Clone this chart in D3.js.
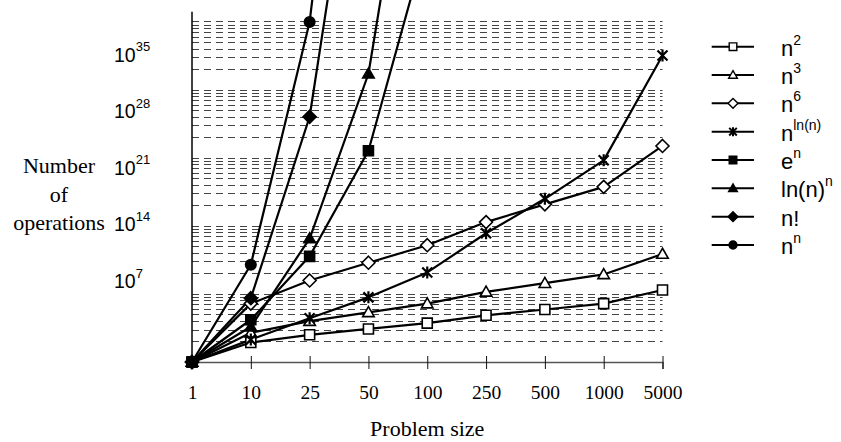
<!DOCTYPE html>
<html>
<head>
<meta charset="utf-8">
<script src="https://cdn.jsdelivr.net/npm/d3@7"></script>
<style>
  body { margin: 0; background: #fff; }
  svg { display: block; }
</style>
</head>
<body>
<svg width="841" height="442"></svg>
<script>
// problem sizes on the x axis
const problemSizes = ["1", "10", "25", "50", "100", "250", "500", "1000", "5000"];

// number of operations per series (last point of the
// fast ones is where the line leaves the top)
const nSquared = [1, 100, 625, 2500, 1e4, 6.3e4, 2.5e5, 1e6, 2.5e7];
const nCubed = [1, 1e3, 1.6e4, 1.25e5, 1e6, 1.6e7, 1.25e8, 1e9, 1.25e11];
const nSixth = [1, 1e6, 2.4e8, 1.6e10, 1e12, 2.4e14, 1.6e16, 1e18, 1.6e22];
const nPowLogN = [1, 200, 3.2e4, 4.4e6, 1.6e9, 1.7e13, 5.9e16, 5.3e20, 3.2e31];
const expN = [1, 2.2e4, 7.2e10, 5.2e21, 2.7e43];
const logNPowN = [1, 4.2e3, 4.9e12, 4.2e29, 2e66];
const factN = [1, 3.6e6, 1.6e25, 3e64];
const nPowN = [1, 1e10, 8.9e34, 8.9e84];

// legend labels: [base, superscript]
const legendLabels = [["n", "2"], ["n", "3"], ["n", "6"], ["n", "ln(n)"],
                      ["e", "n"], ["ln(n)", "n"], ["n!", ""], ["n", "n"]];
const markerTypes = ["square", "triangle", "diamond", "star", "square", "triangle", "diamond", "circle"];
const markerFilled = [false, false, false, false, true, true, true, true];

// y tick labels are 10^exp
const yTickExps = [7, 14, 21, 28, 35];
const yTitle = ["Number", "of", "operations"];
const xTitle = "Problem size";

const svg = d3.select("svg");
const width = +svg.attr("width");
const height = +svg.attr("height");

const seriesValues = [nSquared, nCubed, nSixth, nPowLogN, expN, logNPowN, factN, nPowN];
const series = seriesValues.map((values, i) => ({
  values,
  label: legendLabels[i],
  type: markerTypes[i],
  filled: markerFilled[i]
}));

const plot = {left: 192, right: 662.5, top: 11.7, bottom: 362};

const xScale = d3.scalePoint()
  .domain(problemSizes)
  .range([plot.left, plot.right]);

const yScale = d3.scaleLog()
  .domain([1, 1e36])
  .range([plot.bottom, plot.top]);

// gridlines: every band is 10^7, minor lines at k^7 inside a band
const gridValues = [];
for (let m = 0; m < 5; m++) {
  for (let k = 1; k <= 9; k++) {
    if (m === 0 && k === 1) continue;
    gridValues.push(Math.pow(10, 7 * m) * Math.pow(k, 7));
  }
}
gridValues.push(1e35);

svg.append("g")
  .selectAll("line").data(gridValues)
  .enter().append("line")
    .attr("x1", plot.left)
    .attr("x2", plot.right)
    .attr("y1", d => Math.round(yScale(d)) + 0.5)
    .attr("y2", d => Math.round(yScale(d)) + 0.5)
    .attr("stroke", "#444")
    .attr("stroke-width", 1)
    .attr("stroke-dasharray", "7,5");

// x axis
const xAxis = svg.append("g")
  .attr("transform", `translate(0, ${plot.bottom})`)
  .call(d3.axisBottom(xScale).tickSizeOuter(0).tickSize(7));

xAxis.select(".domain")
  .attr("stroke", "#555")
  .attr("stroke-width", 1.5);
xAxis.selectAll(".tick line")
  .attr("y1", -6)
  .attr("stroke", "#111");
xAxis.selectAll(".tick text")
  .attr("y", 37)
  .attr("dy", 0)
  .attr("font-family", "Liberation Serif, Times New Roman, serif")
  .attr("font-size", 19.5)
  .attr("fill", "#000");

// y axis line
svg.append("line")
  .attr("x1", plot.left)
  .attr("x2", plot.left)
  .attr("y1", plot.top)
  .attr("y2", plot.bottom)
  .attr("stroke", "#000")
  .attr("stroke-width", 1.5);

// y tick labels sit on their own evenly spaced scale, like the original
const labelScale = d3.scaleLinear()
  .domain([7, 35])
  .range([288, 61.7]);

const yLabels = svg.append("g")
  .selectAll("text").data(yTickExps)
  .enter().append("text")
    .attr("x", 114)
    .attr("y", d => labelScale(d))
    .attr("font-family", "Liberation Sans, Arial, sans-serif")
    .attr("font-size", 19.5)
    .attr("fill", "#000");
yLabels.append("tspan").text("10");
yLabels.append("tspan")
  .attr("dy", -10.5)
  .attr("font-size", 13)
  .text(d => d);

// y title
svg.append("text")
  .attr("font-family", "Liberation Serif, Times New Roman, serif")
  .attr("font-size", 22)
  .attr("text-anchor", "middle")
  .selectAll("tspan").data(yTitle)
  .enter().append("tspan")
    .attr("x", 59)
    .attr("y", (d, i) => 173.3 + i * 28.3)
    .text(d => d);

// x title
svg.append("text")
  .attr("x", (plot.left + plot.right) / 2)
  .attr("y", 436)
  .attr("text-anchor", "middle")
  .attr("font-family", "Liberation Serif, Times New Roman, serif")
  .attr("font-size", 22)
  .text(xTitle);

function markerPath(type, r) {
  switch (type) {
    case "square": return `M${-r},${-r}H${r}V${r}H${-r}Z`;
    case "triangle": return `M0,${-r * 1.15}L${r * 1.15},${r * 0.85}H${-r * 1.15}Z`;
    case "diamond": return `M0,${-r * 1.3}L${r * 1.3},0L0,${r * 1.3}L${-r * 1.3},0Z`;
    case "star": return `M${-r},${-r}L${r},${r}M${-r},${r}L${r},${-r}M0,${-r * 1.2}V${r * 1.2}`;
    case "circle": return d3.symbol(d3.symbolCircle, Math.PI * r * r * 1.1)();
  }
}

const line = d3.line()
  .x((d, i) => xScale(problemSizes[i]))
  .y(d => yScale(d));

svg.append("g")
  .selectAll("path").data(series)
  .enter().append("path")
    .attr("d", d => line(d.values))
    .attr("fill", "none")
    .attr("stroke", "#000")
    .attr("stroke-width", 2.2)
    .attr("stroke-linejoin", "round");

const markerGroups = svg.append("g")
  .selectAll("g").data(series)
  .enter().append("g");

markerGroups.selectAll("path")
  .data(d => d.values.map((v, i) => ({v, i, s: d})))
  .enter().append("path")
    .attr("transform", d => `translate(${xScale(problemSizes[d.i])}, ${yScale(d.v)})`)
    .attr("d", d => markerPath(d.s.type, 5))
    .attr("fill", d => d.s.filled ? "#000" : "#fff")
    .attr("stroke", "#000")
    .attr("stroke-width", d => d.s.type === "star" ? 2.2 : 1.6);

// legend
const legendY = d3.scaleLinear()
  .domain([0, series.length - 1])
  .range([46.7, 245]);

const legend = svg.append("g")
  .selectAll("g").data(series)
  .enter().append("g")
    .attr("transform", (d, i) => `translate(0, ${legendY(i)})`);

legend.append("line")
  .attr("x1", 711.7)
  .attr("x2", 754)
  .attr("stroke", "#000")
  .attr("stroke-width", 2);

legend.append("path")
  .attr("transform", "translate(733, 0)")
  .attr("d", d => markerPath(d.type, 3.8))
  .attr("fill", d => d.filled ? "#000" : "#fff")
  .attr("stroke", "#000")
  .attr("stroke-width", d => d.type === "star" ? 2 : 1.4);

const legendText = legend.append("text")
  .attr("x", 781)
  .attr("y", 9)
  .attr("font-family", "Liberation Sans, Arial, sans-serif")
  .attr("font-size", 22)
  .attr("fill", "#000");
legendText.append("tspan").text(d => d.label[0]);
legendText.append("tspan")
  .attr("dy", -11)
  .attr("font-size", 14)
  .text(d => d.label[1]);
</script>
</body>
</html>
